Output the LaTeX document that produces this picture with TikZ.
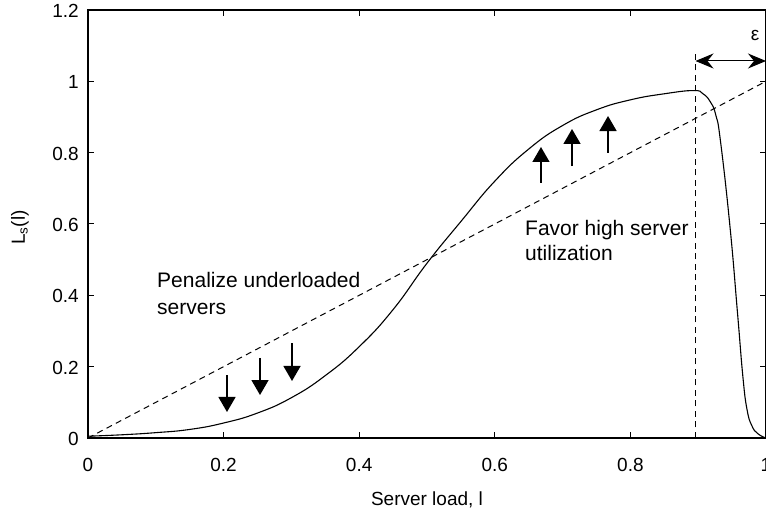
\documentclass[tikz,border=0pt]{standalone}
\usepackage{fontspec}
\setmainfont{Liberation Sans}
\usetikzlibrary{arrows.meta}
\begin{document}
\begin{tikzpicture}[x=678pt,y=356.7pt,
  lbl/.style={font=\fontsize{19}{23}\selectfont, inner sep=0pt},
  note/.style={font=\fontsize{21}{25}\selectfont, inner sep=0pt},
  frameline/.style={line width=1.5pt},
  tickline/.style={line width=1pt},
  curveline/.style={line width=1.1pt},
  dashline/.style={line width=1pt, dash pattern=on 6pt off 4.5pt},
  bigarrow/.style={line width=1.4pt, -{Triangle[length=15pt,width=17pt]}},
  epsarrow/.style={line width=1pt, {Stealth[length=18pt,width=15pt,inset=6pt]}-{Stealth[length=18pt,width=15pt,inset=6pt]}}]
\useasboundingbox (-0.129794,-0.224278) rectangle (1,1.227922);
% frame
\draw[frameline] (0,0) rectangle (1,1.2);
% ticks and labels
\foreach \x/\t in {0/0,0.2/0.2,0.4/0.4,0.6/0.6,0.8/0.8,1/1} {
  \draw[tickline] (\x,0) -- ++(0,6pt);
  \draw[tickline] (\x,1.2) -- ++(0,-6pt);
  \node[lbl] at ([yshift=-27pt]\x,0) {\t};
}
\foreach \y/\t in {0/0,0.2/0.2,0.4/0.4,0.6/0.6,0.8/0.8,1/1,1.2/1.2} {
  \draw[tickline] (0,\y) -- ++(6pt,0);
  \draw[tickline] (1,\y) -- ++(-6pt,0);
  \node[lbl, anchor=east] at ([xshift=-9pt,yshift=-1pt]0,\y) {\t};
}
% axis titles
\node[lbl] (xlab) at (0.5,-0.1738) {Server load, l};
\node[lbl, rotate=90] (ylab) at (-0.1003,0.59) {L\textsubscript{s}(l)};
% reference line
\draw[dashline] (0,0) -- (1,1);
% curve
\draw[curveline] plot[smooth, tension=0.8] coordinates {
  (0,0.005) (0.05,0.009) (0.1,0.015) (0.15,0.024) (0.2,0.042) (0.25,0.07)
  (0.3,0.113) (0.35,0.175) (0.4,0.256) (0.45,0.36) (0.5,0.49)
  (0.55,0.607) (0.6,0.72) (0.65,0.81) (0.7,0.876)
  (0.75,0.92) (0.8,0.948) (0.85,0.965) (0.893,0.974) (0.907,0.965)
  (0.918,0.942) (0.926,0.905) (0.933,0.83) (0.947,0.59) (0.958,0.35)
  (0.966,0.17) (0.972,0.08) (0.979,0.035) (0.988,0.012) (1,0.0)};
% epsilon marker
\coordinate (vtop) at (0.896,1.079);
\coordinate (vbot) at (0.896,0);
\draw[dashline] (vbot) -- (vtop);
\coordinate (el) at (0.896,1.0569);
\coordinate (er) at (1,1.0569);
\draw[epsarrow] (el) -- (er);
\node[lbl] (eps) at (0.9838,1.1298) {ε};
% down arrows
\coordinate (a1s) at (0.205,0.1766);   \coordinate (a1e) at (0.205,0.0729);
\coordinate (a2s) at (0.2537,0.2243);  \coordinate (a2e) at (0.2537,0.1205);
\coordinate (a3s) at (0.3009,0.2663);  \coordinate (a3e) at (0.3009,0.1598);
\draw[bigarrow] (a1s) -- (a1e);
\draw[bigarrow] (a2s) -- (a2e);
\draw[bigarrow] (a3s) -- (a3e);
% up arrows
\coordinate (b1s) at (0.6681,0.7149);  \coordinate (b1e) at (0.6681,0.8158);
\coordinate (b2s) at (0.7139,0.7625);  \coordinate (b2e) at (0.7139,0.8663);
\coordinate (b3s) at (0.767,0.799);    \coordinate (b3e) at (0.767,0.9027);
\draw[bigarrow] (b1s) -- (b1e);
\draw[bigarrow] (b2s) -- (b2e);
\draw[bigarrow] (b3s) -- (b3e);
% annotations
\node[note, anchor=base west] (pen1) at (0.1018,0.4233) {Penalize underloaded};
\node[note, anchor=base west] (pen2) at (0.1018,0.345) {servers};
\node[note, anchor=base west] (fav1) at (0.6445,0.569) {Favor high server};
\node[note, anchor=base west] (fav2) at (0.6445,0.497) {utilization};
\end{tikzpicture}
\end{document}
